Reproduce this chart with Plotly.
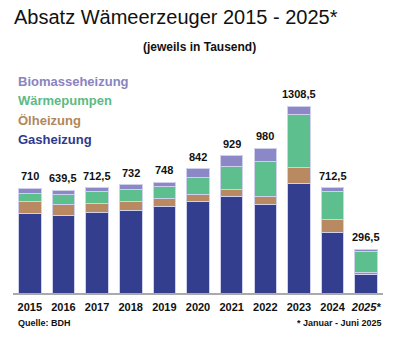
import plotly.graph_objects as go

years = ["2015", "2016", "2017", "2018", "2019", "2020", "2021", "2022", "2023", "2024", "2025*"]
tick_labels = ["2015", "2016", "2017", "2018", "2019", "2020", "2021", "2022", "2023", "2024", "<i>2025*</i>"]
gas = [540, 524, 547, 555, 584, 622, 652, 598.5, 741, 410, 123]
oel = [79, 72, 61, 65, 52, 45, 45, 56.5, 108, 84, 18]
wp = [57, 68, 78, 78, 87, 114, 158, 236, 361, 193, 139.5]
bio = [34, 32, 26.5, 34, 25, 61, 74, 89, 52, 25.5, 16]
total_labels = ["710", "639,5", "712,5", "732", "748", "842", "929", "980", "1308,5", "712,5", "296,5"]

series = [
    ("Gasheizung", gas, "#343e8f", "#2e3a8c"),
    ("Ölheizung", oel, "#b98a62", "#b08760"),
    ("Wärmepumpen", wp, "#5dbf8d", "#5cba86"),
    ("Biomasseheizung", bio, "#8c87c6", "#8a83c2"),
]

FONT = "Liberation Sans, Arial, sans-serif"

fig = go.Figure()
for name, vals, col, _ in series:
    fig.add_trace(go.Bar(
        x=years, y=vals, name=name, marker_color=col,
        marker_line_color="#cfd0ec", marker_line_width=1,
        showlegend=False, hoverinfo="skip",
    ))

annotations = []
for i, yr in enumerate(years):
    top = gas[i] + oel[i] + wp[i] + bio[i]
    annotations.append(dict(
        x=i, y=top, xref="x", yref="y", text=total_labels[i], showarrow=False,
        yanchor="bottom", yshift=4,
        font=dict(family=FONT, size=11, color="#111111", weight="bold"),
    ))

legend_y = [81.5, 100.5, 120, 139]
for (name, _, _, tcol), ly in zip(series[::-1], legend_y):
    annotations.append(dict(
        xref="paper", yref="paper", x=(16 - 13) / 370, y=1 - (ly - 86) / 207,
        xanchor="left", yanchor="middle", showarrow=False, text=name,
        font=dict(family=FONT, size=13, color=tcol, weight="bold"),
    ))

annotations += [
    dict(xref="paper", yref="paper", x=(12 - 13) / 370, y=1 - (17 - 86) / 207,
         xanchor="left", yanchor="middle", showarrow=False,
         text="Absatz Wämeerzeuger 2015 - 2025*",
         font=dict(family=FONT, size=20, color="#111111")),
    dict(xref="paper", yref="paper", x=(199 - 13) / 370, y=1 - (47 - 86) / 207,
         xanchor="center", yanchor="middle", showarrow=False,
         text="(jeweils in Tausend)",
         font=dict(family=FONT, size=12, color="#111111", weight="bold")),
    dict(xref="paper", yref="paper", x=(16 - 13) / 370, y=1 - (323 - 86) / 207,
         xanchor="left", yanchor="middle", showarrow=False,
         text="Quelle: BDH",
         font=dict(family=FONT, size=9, color="#111111", weight="bold")),
    dict(xref="paper", yref="paper", x=(384 - 13) / 370, y=1 - (323 - 86) / 207,
         xanchor="right", yanchor="middle", showarrow=False,
         text="* Januar - Juni 2025",
         font=dict(family=FONT, size=9, color="#111111", weight="bold")),
]

fig.update_layout(
    barmode="stack", bargap=0.33,
    width=400, height=337,
    margin=dict(l=13, r=17, t=86, b=44),
    paper_bgcolor="white", plot_bgcolor="white",
    annotations=annotations,
    xaxis=dict(
        type="category",
        tickvals=years, ticktext=tick_labels, tickangle=0,
        showline=True, linecolor="#aaaaaa",
        linewidth=2, ticks="", showgrid=False, zeroline=False,
        ticklabelstandoff=3,
        tickfont=dict(family=FONT, size=11, color="#111111", weight="bold"),
        range=[-0.5, 10.5], fixedrange=True,
    ),
    yaxis=dict(range=[0, 1400], visible=False, fixedrange=True),
)

fig.write_html("out.html", config={"displayModeBar": False})
